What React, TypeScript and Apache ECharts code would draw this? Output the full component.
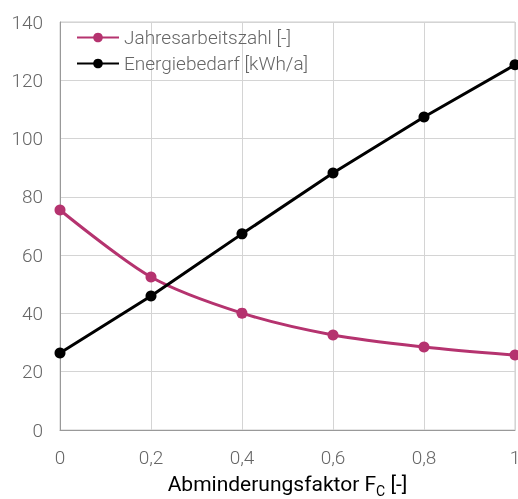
import React, { useEffect, useRef } from "react";
import * as echarts from "echarts";

const xValues = [0, 0.2, 0.4, 0.6, 0.8, 1];
const jahresarbeitszahl = [75.5, 52.5, 40.1, 32.6, 28.5, 25.7];
const energiebedarf = [26.4, 46.0, 67.3, 88.2, 107.4, 125.3];
const seriesNames = ["Jahresarbeitszahl [-]", "Energiebedarf [kWh/a]"];

export default function App() {
  const ref = useRef<HTMLDivElement>(null);
  useEffect(() => {
    if (!ref.current) return;
    const chart = echarts.init(ref.current, null, { renderer: "svg" });
    const font = "Roboto";
    chart.setOption({
      animation: false,
      textStyle: { fontFamily: font },
      grid: {
        left: 60,
        right: 3,
        top: 22,
        bottom: 69,
        outerBoundsMode: "none",
        containLabel: false,
        show: true,
        borderColor: "#cccccc",
        borderWidth: 1,
      },
      legend: {
        orient: "vertical",
        left: 71,
        top: 23,
        itemWidth: 42,
        itemHeight: 12,
        itemGap: 7,
        textStyle: { fontFamily: font, fontSize: 19, fontWeight: 300, color: "#666666" },
        data: seriesNames,
      },
      xAxis: {
        type: "value",
        min: 0,
        max: 1,
        interval: 0.2,
        name: "{a|Abminderungsfaktor F}{b|C}{a| [-]}",
        nameLocation: "middle",
        nameGap: 40,
        nameTextStyle: {
          rich: {
            a: { fontFamily: font, fontSize: 21, color: "#000000", verticalAlign: "bottom", lineHeight: 24 },
            b: { fontFamily: font, fontSize: 14, color: "#000000", verticalAlign: "bottom", lineHeight: 17, padding: [0, 0, -4, 0] },
          },
        },
        axisLine: { lineStyle: { color: "#999999", width: 1 } },
        axisTick: { show: false },
        axisLabel: {
          margin: 18,
          fontSize: 19,
          fontWeight: 300,
          color: "#666666",
          formatter: (v: number) => String(Number(v.toFixed(1))).replace(".", ","),
        },
        splitLine: { show: true, lineStyle: { color: "#d4d4d4", width: 1 } },
      },
      yAxis: {
        type: "value",
        min: 0,
        max: 140,
        interval: 20,
        axisLine: { show: true, lineStyle: { color: "#999999", width: 1 } },
        axisTick: { show: false },
        axisLabel: { margin: 17, fontSize: 19, fontWeight: 300, color: "#666666" },
        splitLine: { show: true, lineStyle: { color: "#d4d4d4", width: 1 } },
      },
      series: [
        {
          name: seriesNames[0],
          type: "line",
          smooth: 0.3,
          data: xValues.map((x, i) => [x, jahresarbeitszahl[i]]),
          symbol: "circle",
          symbolSize: 11,
          lineStyle: { color: "#b5336f", width: 3 },
          itemStyle: { color: "#b5336f" },
        },
        {
          name: seriesNames[1],
          type: "line",
          data: xValues.map((x, i) => [x, energiebedarf[i]]),
          symbol: "circle",
          symbolSize: 11,
          lineStyle: { color: "#000000", width: 3 },
          itemStyle: { color: "#000000" },
        },
      ],
    });
    return () => chart.dispose();
  }, []);
  return <div ref={ref} style={{ position: "fixed", left: 0, top: 0, width: 518, height: 499 }} />;
}
